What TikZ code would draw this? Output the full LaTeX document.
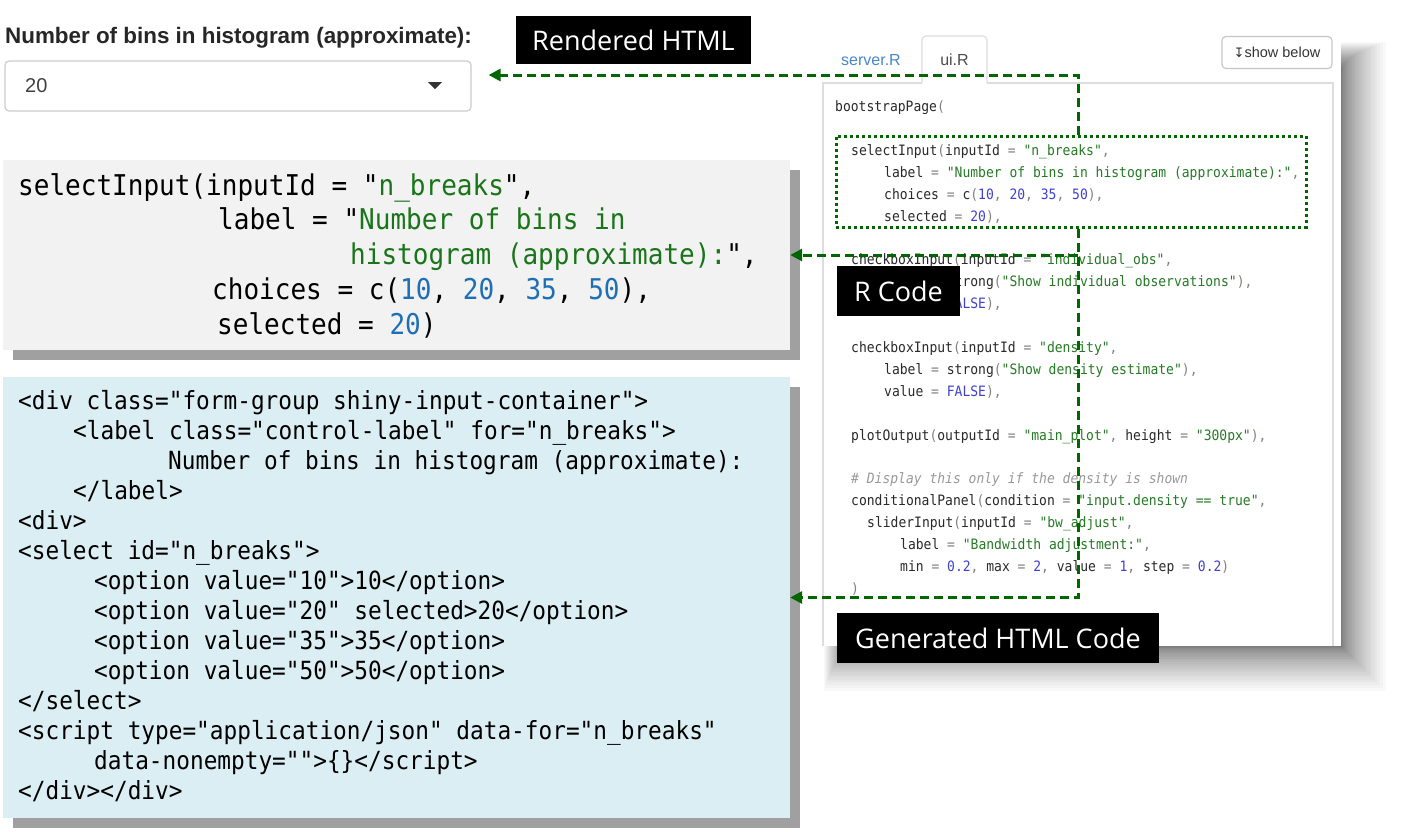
\documentclass[tikz,border=0pt]{standalone}
\usepackage{fontspec}
\setmainfont{Liberation Sans}
\newfontfamily\monof[FakeStretch=0.91]{DejaVu Sans Mono}
\newfontfamily\osans{Open Sans}
\newfontfamily\djv{DejaVu Sans}
\usetikzlibrary{arrows.meta,calc,shadows}
\definecolor{dgreen}{RGB}{0,102,0}
\definecolor{rgray}{HTML}{F2F2F2}
\definecolor{hblue}{HTML}{DAEEF3}
\definecolor{shgray}{HTML}{A0A0A0}
\definecolor{rstr}{HTML}{1A751A}
\definecolor{rnum}{HTML}{1F6FB5}
\definecolor{pid}{HTML}{2A2A2A}
\definecolor{ppun}{HTML}{808080}
\definecolor{pstr}{HTML}{267A26}
\definecolor{pnum}{HTML}{4040D0}
\definecolor{pcom}{HTML}{999999}
\definecolor{tabblue}{HTML}{4A88C8}
\definecolor{bordergray}{HTML}{DDDDDD}
\newcommand\Rs[1]{\textcolor{rstr}{#1}}
\newcommand\Rn[1]{\textcolor{rnum}{#1}}
\newcommand\Pp[1]{\textcolor{ppun}{#1}}
\newcommand\Ps[1]{\textcolor{pstr}{#1}}
\newcommand\Pn[1]{\textcolor{pnum}{#1}}
\begin{document}
\begin{tikzpicture}[x=1pt,y=-1pt,
  pcode/.style={anchor=base west, inner sep=0, font=\monof\fontsize{14.3}{17}\selectfont, text=pid},
  rcode/.style={anchor=base west, inner sep=0, font=\monof\fontsize{28.6}{34}\selectfont, text=black},
  hcode/.style={anchor=base west, inner sep=0, font=\monof\fontsize{25}{30}\selectfont, text=black},
  blk/.style={fill=black, text=white, font=\osans\fontsize{27}{32}\selectfont, inner sep=0},
  conn/.style={draw=dgreen, line width=3pt, dash pattern=on 9pt off 5pt, -{Triangle[length=12pt,width=12pt]}},
  codebox/.style={inner sep=0, drop shadow={shadow xshift=10pt, shadow yshift=-10pt, fill=shgray, opacity=1}},
  tabline/.style={draw=bordergray, line width=1.2pt}
]
\path[use as bounding box, fill=white] (0,0) rectangle (1406,831);

% ---------- panel (screenshot) ----------
\foreach \i in {1,...,30}{
  \fill[black, opacity=0.022] ({854-\i},{72-\i}) rectangle ({1341+0.05*\i*\i},{646+0.05*\i*\i});
}
\fill[white] (814,32) rectangle (1341,646);
\node[font=\fontsize{16}{19}\selectfont, text=tabblue] (srv) at (871,60) {server.R};
\draw[tabline, rounded corners=4pt] (922,83) -- (922,36) -- (987,36) -- (987,83);
\node[font=\fontsize{16}{19}\selectfont, text=black!70] (uir) at (954.5,60) {ui.R};
\draw[tabline] (922,83) -- (823,83) -- (823,646);
\draw[tabline] (987,83) -- (1333,83) -- (1333,646);
\node[draw=black!22, line width=1.2pt, rounded corners=4pt, minimum width=110pt, minimum height=32pt, inner sep=0,
      font=\fontsize{14.5}{17}\selectfont, text=black!80] (showb) at (1277,52.5) {{\djv\fontsize{13}{15}\selectfont ↧}show below};

\node[pcode] (p1) at (835,111) {bootstrapPage\Pp{(}};
\node[pcode] (p2) at (851,155) {selectInput\Pp{(}inputId \Pp{=} \Ps{"n\_breaks"}\Pp{,}};
\node[pcode] (p3) at (884,177) {label \Pp{=} \Ps{"Number of bins in histogram (approximate):"}\Pp{,}};
\node[pcode] (p4) at (884,199) {choices \Pp{=} c\Pp{(}\Pn{10}\Pp{,} \Pn{20}\Pp{,} \Pn{35}\Pp{,} \Pn{50}\Pp{),}};
\node[pcode] (p5) at (884,221) {selected \Pp{=} \Pn{20}\Pp{),}};
\node[pcode] (p6) at (851,264) {checkboxInput\Pp{(}inputId \Pp{=} \Ps{"individual\_obs"}\Pp{,}};
\node[pcode] (p7) at (884,286) {label \Pp{=} strong\Pp{(}\Ps{"Show individual observations"}\Pp{),}};
\node[pcode] (p8) at (884,308) {value \Pp{=} \Pn{FALSE}\Pp{),}};
\node[pcode] (p9) at (851,352) {checkboxInput\Pp{(}inputId \Pp{=} \Ps{"density"}\Pp{,}};
\node[pcode] (p10) at (884,374) {label \Pp{=} strong\Pp{(}\Ps{"Show density estimate"}\Pp{),}};
\node[pcode] (p11) at (884,396) {value \Pp{=} \Pn{FALSE}\Pp{),}};
\node[pcode] (p12) at (851,440) {plotOutput\Pp{(}outputId \Pp{=} \Ps{"main\_plot"}\Pp{,} height \Pp{=} \Ps{"300px"}\Pp{),}};
\node[pcode, text=pcom] (p13) at (851,483) {\itshape \# Display this only if the density is shown};
\node[pcode] (p14) at (851,505) {conditionalPanel\Pp{(}condition \Pp{=} \Ps{"input.density == true"}\Pp{,}};
\node[pcode] (p15) at (867,527) {sliderInput\Pp{(}inputId \Pp{=} \Ps{"bw\_adjust"}\Pp{,}};
\node[pcode] (p16) at (900,549) {label \Pp{=} \Ps{"Bandwidth adjustment:"}\Pp{,}};
\node[pcode] (p17) at (900,571) {min \Pp{=} \Pn{0.2}\Pp{,} max \Pp{=} \Pn{2}\Pp{,} value \Pp{=} \Pn{1}\Pp{,} step \Pp{=} \Pn{0.2}\Pp{)}};
\node[pcode] (p18) at (851,593) {\Pp{)}};

\node[draw=dgreen, line width=3pt, dash pattern=on 3pt off 3pt, minimum width=470pt, minimum height=91pt, inner sep=0] (sel) at (1071,181.5) {};
\coordinate (jx) at (1078,0);

% ---------- left code boxes ----------
\node[codebox, fill=rgray, minimum width=787pt, minimum height=190pt] (rbox) at (396.5,255) {};
\node[rcode] (r1) at (18,195.5) {selectInput(inputId = "\Rs{n\_breaks}",};
\node[rcode] (r2) at (218,229.5) {label = "\Rs{Number of bins in}};
\node[rcode] (r3) at (350,264.5) {\Rs{histogram (approximate):}",};
\node[rcode] (r4) at (212,299.5) {choices = c(\Rn{10}, \Rn{20}, \Rn{35}, \Rn{50}),};
\node[rcode] (r5) at (217,334.5) {selected = \Rn{20})};

\node[codebox, fill=hblue, minimum width=787pt, minimum height=441pt] (hbox) at (396.5,597.5) {};
\node[hcode] (h1) at (18,409) {<div class="form-group shiny-input-container">};
\node[hcode] (h2) at (73,439) {<label class="control-label" for="n\_breaks">};
\node[hcode] (h3) at (168,469) {Number of bins in histogram (approximate):};
\node[hcode] (h4) at (73,499) {</label>};
\node[hcode] (h5) at (18,529) {<div>};
\node[hcode] (h6) at (18,559) {<select id="n\_breaks">};
\node[hcode] (h7) at (94,589) {<option value="10">10</option>};
\node[hcode] (h8) at (94,619) {<option value="20" selected>20</option>};
\node[hcode] (h9) at (94,649) {<option value="35">35</option>};
\node[hcode] (h10) at (94,679) {<option value="50">50</option>};
\node[hcode] (h11) at (18,709) {</select>};
\node[hcode] (h12) at (18,739) {<script type="application/json" data-for="n\_breaks"};
\node[hcode] (h13) at (94,769) {data-nonempty="">\{\}</script>};
\node[hcode] (h14) at (18,799) {</div></div>};

% ---------- rendered select ----------
\node[anchor=west, inner sep=0, font=\bfseries\fontsize{22.4}{26}\selectfont, text=black!85] (lbl) at (5,38) {Number of bins in histogram (approximate):};
\node[draw=black!20, line width=1.2pt, rounded corners=4pt, minimum width=466pt, minimum height=50pt, inner sep=0] (dd) at (238,86) {};
\node[anchor=west, inner sep=0, font=\fontsize{20}{24}\selectfont, text=black!75] (dd20) at (25,86) {20};
\fill[black!80] (428,82) -- (442,82) -- (435,89) -- cycle;

% ---------- connectors ----------
\draw[conn] (sel.north -| jx) |- ($(dd.east)+(17,-11)$);
\draw[conn] (sel.south -| jx) |- (hbox.east);
\draw[conn] (rbox.east -| jx) -- (rbox.east);

% ---------- labels ----------
\node[blk, minimum width=235pt, minimum height=48pt] (rhtml) at (633.5,40) {Rendered HTML};
\node[blk, minimum width=123pt, minimum height=50pt] (rcodelbl) at (898.5,291) {R Code};
\node[blk, minimum width=322pt, minimum height=50pt] (ghtml) at (998,638) {Generated HTML Code};
\end{tikzpicture}
\end{document}
